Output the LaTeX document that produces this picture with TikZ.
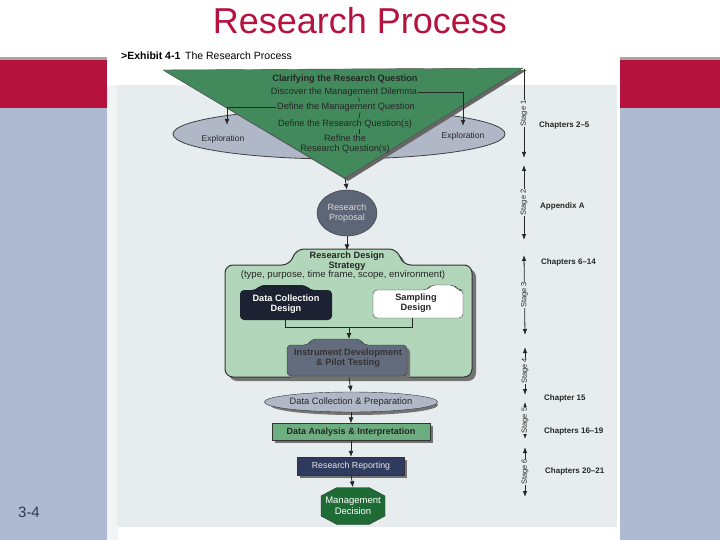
\documentclass[tikz,border=0pt]{standalone}
\usepackage{fontspec}
\setmainfont{Liberation Sans}
\usepackage{tikz}
\usetikzlibrary{
  arrows.meta,
  shapes.geometric,
  calc
}
\definecolor{slidered}{RGB}{181,18,62}
\definecolor{slideblue}{RGB}{174,185,210}
\definecolor{panel}{RGB}{231,237,238}
\definecolor{trig}{RGB}{66,138,92}
\definecolor{ellc}{RGB}{176,184,200}
\definecolor{rdsc}{RGB}{178,214,186}
\definecolor{navy}{RGB}{28,34,50}
\definecolor{propc}{RGB}{92,102,119}
\definecolor{insc}{RGB}{98,108,124}
\definecolor{daic}{RGB}{109,174,128}
\definecolor{rrc}{RGB}{47,59,94}
\definecolor{mdc}{RGB}{31,107,53}
\definecolor{numc}{RGB}{43,58,90}

\begin{document}
\begin{tikzpicture}[x=1pt, y=-1pt,
    tx/.style={font=\fontsize{9.2}{10}\selectfont, inner sep=1pt, align=center, text=black!85},
    bx/.style={font=\bfseries\fontsize{9.2}{10}\selectfont, inner sep=1pt, align=center, text=black!85},
    ar/.style={-{Latex[length=6pt,width=5pt]}, black!85, line width=0.8pt},
    ln/.style={black!85, line width=0.6pt},
    stgone/.style={-{Latex[length=6pt,width=4.5pt]}, black!85, line width=0.8pt},
    stg/.style={{Latex[length=6pt,width=4.5pt]}-{Latex[length=6pt,width=4.5pt]}, black!85, line width=0.8pt},
    slab/.style={font=\fontsize{7.5}{8}\selectfont, rotate=90, fill=panel, inner sep=0.5pt},
    chp/.style={font=\bfseries\fontsize{8}{9}\selectfont, anchor=west, text=black!85, inner sep=0pt},
    shd/.style={fill=black!55}
  ]
    \useasboundingbox (0,0) rectangle (720,540);
    % slide background
    \fill[white] (0,0) rectangle (720,540);
    \fill[black!35] (0,57) rectangle (720,60);
    \fill[slidered] (0,60) rectangle (720,108);
    \fill[slideblue] (0,108) rectangle (720,540);
    \node[font=\fontsize{36}{40}\selectfont, text=slidered] (title) at (360,21) {Research Process};
    \node[font=\fontsize{15}{17}\selectfont, text=numc] (num) at (29,512) {3-4};
    % exhibit page
    \fill[white] (107,45) rectangle (620,540);
    \fill[panel!60] (107,85) rectangle (118,540);
    \fill[panel] (117,85) rectangle (617,527);
    \node[font=\fontsize{10.5}{12}\selectfont, anchor=west, inner sep=0pt] (exh) at (121,56)
      {\textbf{>Exhibit 4-1}\, The Research Process};

    % stage 1: clarifying the question
    \filldraw[fill=ellc, draw=black!75, line width=0.8pt] (339,134) ellipse [x radius=166pt, y radius=25pt];
    \fill[black!60] (166,72) -- (527,70) -- (348,181) -- cycle;
    \filldraw[fill=trig, draw=black!70] (163,70) -- (523,68) -- (345,178) -- cycle;
    \coordinate (tA) at (345,178);
    \node[bx] (q0) at (345,79) {Clarifying the Research Question};
    \node[tx] (q1) at (344,92) {Discover the Management Dilemma};
    \node[tx] (q2) at (346,107) {Define the Management Question};
    \node[tx] (q3) at (345,124) {Define the Research Question(s)};
    \node[tx] (q4) at (345,144) {Refine the\\Research Question(s)};
    \node[tx, font=\fontsize{8.5}{9}\selectfont] (exL) at (223,139) {Exploration};
    \node[tx, font=\fontsize{8.5}{9}\selectfont] (exR) at (463,136) {Exploration};
    \draw[ln] ([xshift=14pt]q1.south) -- ([xshift=14pt]q2.north);
    \draw[ln] ([xshift=14pt]q2.south) -- ([xshift=14pt]q3.north);
    \draw[ln] ([xshift=14pt]q3.south) -- ([xshift=14pt]q4.north);
    \draw[ar, shorten >=5pt] (q1.east) -| (exR.north);
    \draw[ar, shorten >=9pt] (q2.west) -| ([xshift=4pt]exL.north);

    % stage 2: proposal
    \node[ellipse, draw=black!80, fill=propc, minimum width=60pt, minimum height=46pt, inner sep=0pt,
          font=\fontsize{9}{10}\selectfont, align=center, text=black!15] (rp) at (347,213)
      {Research\\Proposal};
    \draw[ar] (tA) -- (rp.north);

    % stage 3: design strategy
    \fill[shd, rounded corners=8pt] (229,381) -- (229,269) -- (294,269) -- (300,253) -- (401,253) -- (407,269) -- (476,269) -- (476,381) -- cycle;
    \filldraw[fill=rdsc, draw=black!80, line width=1pt, rounded corners=8pt] (225,377) -- (225,265) -- (290,265) -- (296,249) -- (397,249) -- (403,265) -- (472,265) -- (472,377) -- cycle;
    \node[bx] (rdT) at (347,261) {Research Design\\Strategy};
    \node[tx, font=\fontsize{9.6}{10}\selectfont] (rdS) at (343,275) {(type, purpose, time frame, scope, environment)};
    \draw[ar] (rp.south) -- (rdT.north);
    \fill[navy, rounded corners=4pt] (240,320) -- (240,290) -- (256,290) -- (260,285) -- (306,285) -- (310,290) -- (332,290) -- (332,320) -- cycle;
    \filldraw[fill=white, draw=black!80, rounded corners=4pt] (373,318) -- (373,290) -- (427,290) -- (431,285) -- (454,285) -- (458,290) -- (463,290) -- (463,318) -- cycle;
    \node[bx, text=white] (dcd) at (286,304) {Data Collection\\Design};
    \node[bx] (sd) at (416,303) {Sampling\\Design};
    \coordinate (jn) at (349,327);
    \coordinate (jl) at (285,327);
    \coordinate (jr) at (412,327);
    \draw[ln] (285,320) -- (jl) -- (jr) -- (412,318);
    \fill[shd, rounded corners=4pt] (290,379) -- (290,348) -- (311,348) -- (315,342) -- (363,342) -- (367,348) -- (410,348) -- (410,379) -- cycle;
    \filldraw[fill=insc, draw=black!80, rounded corners=4pt] (287,376) -- (287,345) -- (308,345) -- (312,339) -- (360,339) -- (364,345) -- (407,345) -- (407,376) -- cycle;
    \node[bx, text=black!80] (ins) at (348,358) {Instrument Development\\\& Pilot Testing};
    \draw[ar] (jn) -- (349,339);
    \coordinate (rdB) at (349,377);

    % stages 4-6
    \fill[black!55] (354,405) ellipse [x radius=84pt, y radius=10pt];
    \node[ellipse, draw=black!80, fill=ellc, minimum width=168pt, minimum height=20pt, inner sep=0pt,
          font=\fontsize{9.3}{10}\selectfont, text=black!85] (dcp) at (351,402) {Data Collection \& Preparation};
    \draw[ar] (rdB) -- (dcp.north);
    \fill[shd] (275,426) rectangle (433,443);
    \node[draw=black!80, fill=daic, minimum width=158pt, minimum height=17pt, inner sep=0pt,
          font=\bfseries\fontsize{9}{10}\selectfont, text=black!85] (dai) at (351,432) {Data Analysis \& Interpretation};
    \draw[ar] (dcp.south) -- (dai.north);
    \fill[shd] (300,460) rectangle (407,478);
    \node[draw=black!80, fill=rrc, minimum width=107pt, minimum height=18pt, inner sep=0pt,
          font=\fontsize{8.8}{10}\selectfont, text=black!10] (rr) at (351,466) {Research Reporting};
    \draw[ar] (dai.south) -- (rr.north);
    \filldraw[fill=mdc, draw=black!80] (337,487.5) -- (369,487.5) -- (385,496) -- (385,516)
      -- (369,524.5) -- (337,524.5) -- (321,516) -- (321,496) -- cycle;
    \node[minimum height=37pt, inner sep=0pt, align=center,
          font=\fontsize{9.5}{11}\selectfont, text=white] (md) at (353,506) {Management\\Decision};
    \draw[ar] (rr.south) -- (md.north);

    % stage scale
    \coordinate (st1) at (524,69);  \coordinate (sb1) at (524,158);
    \coordinate (st2) at (524,165); \coordinate (sb2) at (524,240);
    \coordinate (st3) at (524,255); \coordinate (sb3) at (525,335);
    \coordinate (st4) at (525,347); \coordinate (sb4) at (525,395);
    \coordinate (st5) at (525,402); \coordinate (sb5) at (525,439);
    \coordinate (st6) at (525,447); \coordinate (sb6) at (525,497);
    \draw[stgone] (st1) -- node[slab] (lab1) {Stage 1} (sb1);
    \foreach \i in {2,...,6}
      \draw[stg] (st\i) -- node[slab] (lab\i) {Stage \i} (sb\i);
    \node[chp] (ch1) at (539,125) {Chapters 2--5};
    \node[chp] (ch2) at (540,206) {Appendix A};
    \node[chp] (ch3) at (541,262) {Chapters 6--14};
    \node[chp] (ch4) at (544,398) {Chapter 15};
    \node[chp] (ch5) at (544,431) {Chapters 16--19};
    \node[chp] (ch6) at (545,471) {Chapters 20--21};
  \end{tikzpicture}
\end{document}
